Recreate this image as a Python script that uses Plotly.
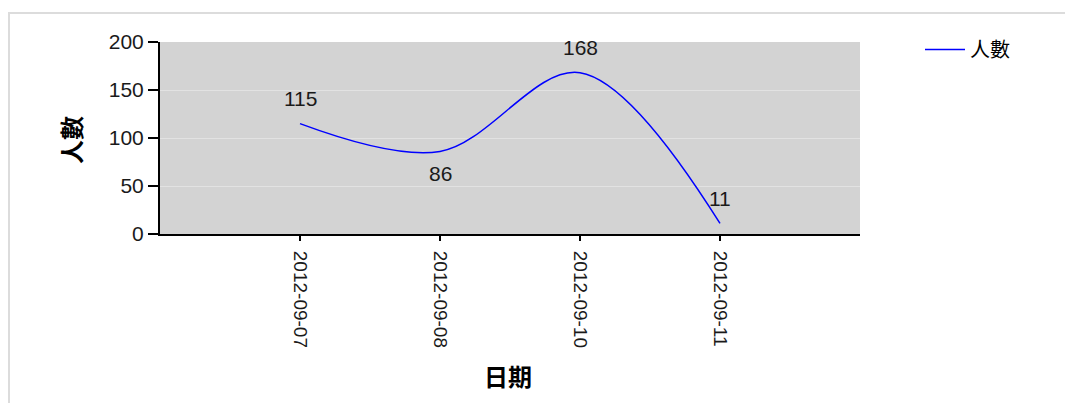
import plotly.graph_objects as go

# ---- data ----
dates = ["2012-09-07", "2012-09-08", "2012-09-10", "2012-09-11"]
counts = [115, 86, 168, 11]
label_side = ["above", "below", "above", "above"]
series_name = "人數"
x_title = "日期"
y_title = "人數"
y_ticks = [0, 50, 100, 150, 200]

W, H = 1065, 403
L, R, T, B = 160, 205, 42, 169
pw, ph = W - L - R, H - T - B

def px_x(p):
    return (p - L) / pw

def px_y(p):
    return (H - B - p) / ph

fig = go.Figure()
fig.add_trace(go.Scatter(
    x=dates, y=counts, mode="lines", name=series_name,
    line=dict(color="#0000FF", width=1.5, shape="spline", smoothing=1.0),
))

annotations = []
for d, v, s in zip(dates, counts, label_side):
    annotations.append(dict(
        x=d, y=v, xref="x", yref="y", text=str(v), showarrow=False,
        xanchor="center", yanchor="middle",
        yshift=25 if s == "above" else -22,
        font=dict(family="Liberation Sans, Arial", size=21, color="#1a1a1a"),
    ))
annotations.append(dict(
    x=px_x(70), y=px_y(140), xref="paper", yref="paper", text=y_title,
    textangle=-90, showarrow=False, xanchor="center", yanchor="middle",
    font=dict(family="Noto Sans CJK TC", size=24, color="#000", weight="bold"),
))
annotations.append(dict(
    x=px_x(508), y=px_y(375), xref="paper", yref="paper", text=x_title,
    showarrow=False, xanchor="center", yanchor="middle",
    font=dict(family="Noto Sans CJK TC", size=24, color="#000", weight="bold"),
))

fig.update_layout(
    width=W, height=H,
    margin=dict(l=L, r=R, t=T, b=B),
    paper_bgcolor="white",
    plot_bgcolor="#D3D3D3",
    showlegend=True,
    legend=dict(x=px_x(920), y=px_y(30), xanchor="left", yanchor="top",
                itemwidth=40,
                font=dict(family="Noto Sans CJK TC", size=20, color="#000"),
                bgcolor="rgba(0,0,0,0)"),
    annotations=annotations,
    shapes=[dict(type="rect", xref="paper", yref="paper",
                 x0=px_x(9), x1=px_x(1075), y0=px_y(13), y1=px_y(420),
                 line=dict(color="#DCDCDC", width=2), layer="below")],
    xaxis=dict(
        type="category", range=[-1, len(dates)],
        tickangle=90, ticks="outside", ticklen=5, tickwidth=1.5, tickcolor="#000",
        ticklabelstandoff=6,
        showline=True, linecolor="#000", linewidth=2, showgrid=False,
        tickfont=dict(family="Liberation Sans, Arial", size=19, color="#1a1a1a"),
        fixedrange=True,
    ),
    yaxis=dict(
        range=[0, 200], tickvals=y_ticks, ticks="outside", ticklen=10, tickwidth=1.5,
        tickcolor="#000", showline=True, linecolor="#000", linewidth=2,
        showgrid=True, gridcolor="#E2E2E2", gridwidth=1, zeroline=False,
        tickfont=dict(family="Liberation Sans, Arial", size=21, color="#1a1a1a"),
        fixedrange=True,
    ),
)

fig.write_html("out.html", config={"displayModeBar": False},
               post_script="document.body.style.margin='0px';")
